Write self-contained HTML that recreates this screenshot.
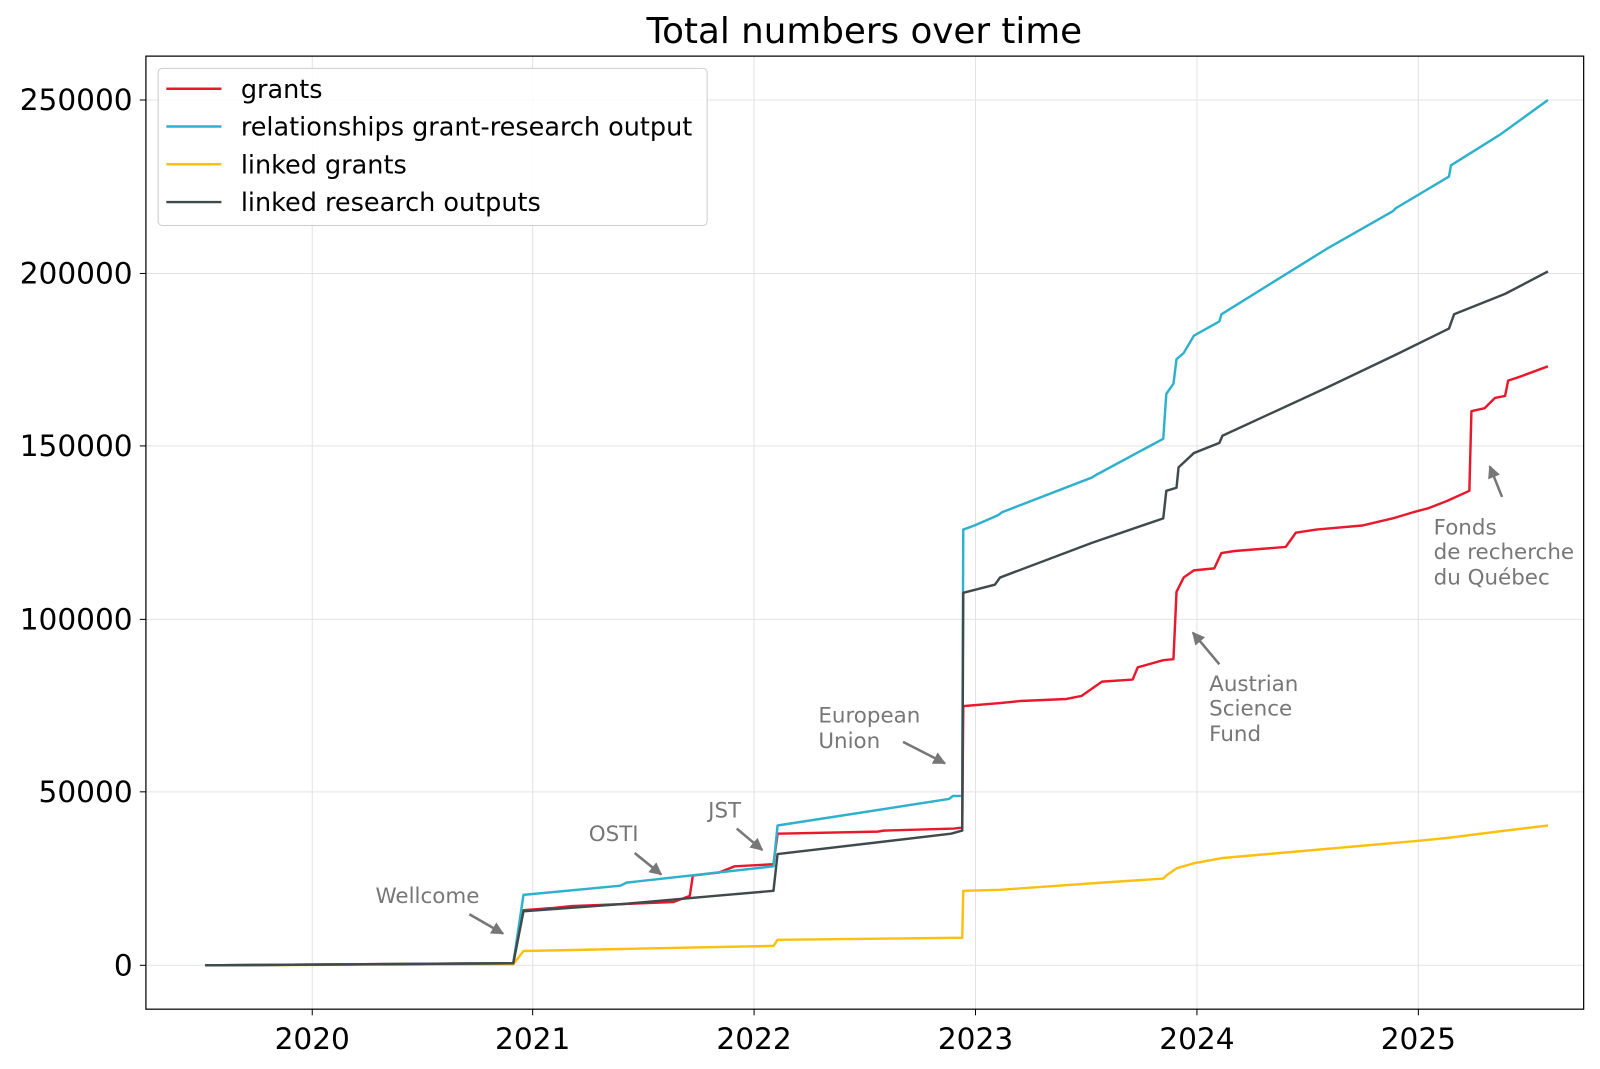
<!DOCTYPE html>
<html><head><meta charset="utf-8"><style>
html,body{margin:0;padding:0;background:#fff}
svg{display:block;font-family:"DejaVu Sans","Liberation Sans",sans-serif}
</style></head><body>
<svg width="1600" height="1069" viewBox="0 0 1600 1069" xmlns="http://www.w3.org/2000/svg">
<defs><marker id="ah" viewBox="0 0 10 10" refX="9" refY="5" markerWidth="5" markerHeight="5" orient="auto"><path d="M0,0 L10,5 L0,10 z" fill="#777"/></marker></defs>
<rect width="1600" height="1069" fill="#fff"/>
<g transform="scale(1.0204)">
<g stroke="#e3e3e3" stroke-width="1">
<line x1="306" y1="55" x2="306" y2="989"/><line x1="522" y1="55" x2="522" y2="989"/><line x1="739" y1="55" x2="739" y2="989"/><line x1="956" y1="55" x2="956" y2="989"/><line x1="1173" y1="55" x2="1173" y2="989"/><line x1="1390" y1="55" x2="1390" y2="989"/>
<line x1="143" y1="946" x2="1552" y2="946"/><line x1="143" y1="776" x2="1552" y2="776"/><line x1="143" y1="607" x2="1552" y2="607"/><line x1="143" y1="437" x2="1552" y2="437"/><line x1="143" y1="268" x2="1552" y2="268"/><line x1="143" y1="98" x2="1552" y2="98"/>
</g>
<text x="847" y="42" font-size="35" text-anchor="middle">Total numbers over time</text>
<g font-size="29" text-anchor="middle" fill="#000">
<text x="306" y="1028">2020</text><text x="522" y="1028">2021</text><text x="739" y="1028">2022</text><text x="956" y="1028">2023</text><text x="1173" y="1028">2024</text><text x="1390" y="1028">2025</text>
</g>
<g font-size="29" text-anchor="end">
<text x="130" y="956">0</text><text x="130" y="786">50000</text><text x="130" y="617">100000</text><text x="130" y="447">150000</text><text x="130" y="278">200000</text><text x="130" y="108">250000</text>
</g>
<g stroke="#000" stroke-width="1">
<line x1="306" y1="989" x2="306" y2="995"/><line x1="522" y1="989" x2="522" y2="995"/><line x1="739" y1="989" x2="739" y2="995"/><line x1="956" y1="989" x2="956" y2="995"/><line x1="1173" y1="989" x2="1173" y2="995"/><line x1="1390" y1="989" x2="1390" y2="995"/>
<line x1="137" y1="946" x2="143" y2="946"/><line x1="137" y1="776" x2="143" y2="776"/><line x1="137" y1="607" x2="143" y2="607"/><line x1="137" y1="437" x2="143" y2="437"/><line x1="137" y1="268" x2="143" y2="268"/><line x1="137" y1="98" x2="143" y2="98"/>
</g>
<g fill="none" stroke-width="2.4" stroke-linejoin="round">
<polyline stroke="#fdc010" points="201,946 503,945 513,932 609,930 758,927 762,921 943,919 944,873 980,872 1080,865 1140,861 1143,858 1153,851 1170,846 1197,841 1390,824 1420,821 1475,814 1517,809"/>
<polyline stroke="#e8192c" points="201,946 503,944 513,892 540,890 560,888 610,886 660,884 676,878 679,858 705,855 720,849 758,847 762,817 860,815 866,814 935,812 943,811 944,692 980,689 1000,687 1045,685 1060,682 1080,668 1110,666 1115,654 1140,647 1150,646 1153,580 1160,566 1170,559 1190,557 1197,542 1210,540 1260,536 1270,522 1290,519 1335,515 1365,508 1385,502 1400,498 1418,491 1440,481 1442,403 1455,400 1465,390 1475,388 1478,373 1490,369 1517,359"/>
<polyline stroke="#2eb1cc" points="201,946 503,944 513,877 608,868 614,865 740,851 758,849 762,809 930,783 934,780 943,780 944,519 955,515 978,505 982,502 1070,468 1075,465 1140,430 1143,386 1150,376 1153,352 1160,346 1170,329 1195,315 1197,308 1300,244 1365,207 1368,204 1420,173 1422,162 1470,132 1517,98"/>
<polyline stroke="#404a4a" points="201,946 503,944 513,893 610,886 700,878 758,873 762,837 932,817 943,814 944,581 975,573 980,566 1070,532 1140,508 1143,481 1153,478 1155,458 1170,444 1195,434 1198,427 1300,380 1365,349 1420,322 1425,308 1475,288 1517,266"/>
</g>
<rect x="143" y="55" width="1409" height="934" fill="none" stroke="#000" stroke-width="1.2"/>
<g font-size="21" fill="#777">
<text x="368" y="885">Wellcome</text>
<text x="577" y="824">OSTI</text>
<text x="694" y="801">JST</text>
<text x="802" y="708">European</text><text x="802" y="733">Union</text>
<text x="1185" y="677">Austrian</text><text x="1185" y="701">Science</text><text x="1185" y="726">Fund</text>
<text x="1405" y="524">Fonds</text><text x="1405" y="548">de recherche</text><text x="1405" y="573">du Québec</text>
</g>
<g stroke="#777" stroke-width="2.5" marker-end="url(#ah)">
<line x1="460" y1="896" x2="493" y2="915"/>
<line x1="622" y1="836" x2="648" y2="857"/>
<line x1="722" y1="812" x2="747" y2="833"/>
<line x1="885" y1="727" x2="926" y2="748"/>
<line x1="1195" y1="651" x2="1169" y2="620"/>
<line x1="1472" y1="487" x2="1460" y2="457"/>
</g>
<rect x="155" y="67" width="538" height="154" rx="4" fill="#fff" fill-opacity="0.85" stroke="#ccc"/>
<g stroke-width="2.4">
<line x1="163" y1="87" x2="217" y2="87" stroke="#e8192c"/>
<line x1="163" y1="124" x2="217" y2="124" stroke="#2eb1cc"/>
<line x1="163" y1="161" x2="217" y2="161" stroke="#fdc010"/>
<line x1="163" y1="198" x2="217" y2="198" stroke="#404a4a"/>
</g>
<g font-size="25">
<text x="236" y="96">grants</text>
<text x="236" y="133">relationships grant-research output</text>
<text x="236" y="170">linked grants</text>
<text x="236" y="207">linked research outputs</text>
</g>
</g>
</svg>
</body></html>
